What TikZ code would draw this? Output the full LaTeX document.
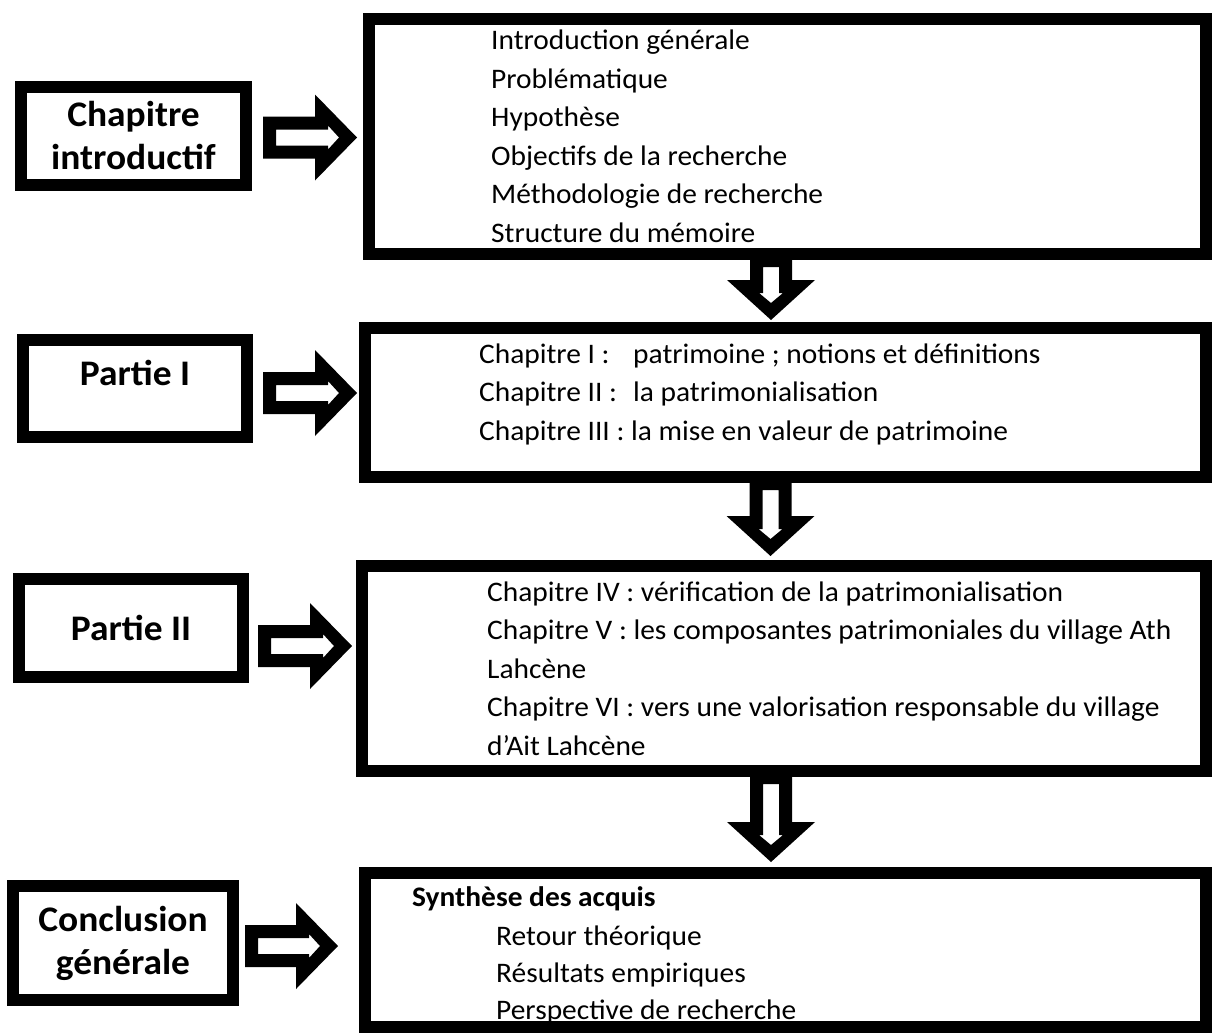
\documentclass[tikz,border=0pt]{standalone}
\usepackage{fontspec}
\setmainfont{Carlito}[FakeStretch=1.04]
\usetikzlibrary{positioning,calc}

\begin{document}
\begin{tikzpicture}[x=1pt, y=-1pt,
    part/.style={draw, line width=12pt, fill=white, inner sep=0pt, align=center,
      font=\fontsize{36}{43}\selectfont\bfseries},
    content/.style={draw, line width=12pt, fill=white, inner sep=0pt},
    items/.style={anchor=base west, inner sep=0pt, align=left,
      font=\fontsize{28.3}{38.5}\selectfont},
    hollowright/.style={to path={let \p1=(\tikztostart), \p2=(\tikztotarget) in
      (\x1,\y1+21pt) -- (\x2-42pt,\y1+21pt) -- (\x2-42pt,\y1+43pt) -- (\x2,\y1)
      -- (\x2-42pt,\y1-43pt) -- (\x2-42pt,\y1-21pt) -- (\x1,\y1-21pt) -- cycle
      (\x1+13pt,\y1+8pt) -- (\x2-29pt,\y1+8pt) -- (\x2-29pt,\y1+12pt) -- (\x2-18pt,\y1)
      -- (\x2-29pt,\y1-12pt) -- (\x2-29pt,\y1-8pt) -- (\x1+13pt,\y1-8pt) -- cycle}},
    hollowdown/.style={to path={let \p1=(\tikztostart), \p2=(\tikztotarget) in
      (\x1-21pt,\y1) -- (\x1-21pt,\y2+40pt) -- (\x1-44pt,\y2+40pt) -- (\x1,\y2)
      -- (\x1+44pt,\y2+40pt) -- (\x1+21pt,\y2+40pt) -- (\x1+21pt,\y1) -- cycle
      (\x1-8pt,\y1-13pt) -- (\x1-8pt,\y2+27pt) -- (\x1-12pt,\y2+27pt) -- (\x1,\y2+17pt)
      -- (\x1+12pt,\y2+27pt) -- (\x1+8pt,\y2+27pt) -- (\x1+8pt,\y1-13pt) -- cycle}}]

\useasboundingbox (0,0) rectangle (1214,1033);

% left column
\node[part, minimum width=225pt, minimum height=98pt] (intro) at (133.5,136) {Chapitre\\introductif};
\node[part, minimum width=224pt, minimum height=97pt, text height=22pt, text depth=28pt] (part1) at (135,388.5) {Partie I};
\node[part, minimum width=224pt, minimum height=98pt] (part2) at (131,628) {Partie II};
\node[part, minimum width=220pt, minimum height=114pt] (concl) at (123,943) {Conclusion\\générale};

% right column
\node[content, minimum width=837pt, minimum height=235pt] (intro box) at (787.5,136.5) {};
\node[content, minimum width=841pt, minimum height=149pt] (part1 box) at (785.5,402.5) {};
\node[content, minimum width=844pt, minimum height=205pt] (part2 box) at (784,668.5) {};
\node[content, minimum width=841pt, minimum height=154pt] (concl box) at (785.5,950) {};

\node[items] (intro list) at (491,242) {Introduction générale\\Problématique\\Hypothèse\\Objectifs de la recherche\\Méthodologie de recherche\\Structure du mémoire};
\node[items] (part1 list) at (479,440) {\makebox[154pt][l]{Chapitre I :}patrimoine ; notions et définitions\\\makebox[154pt][l]{Chapitre II :}la patrimonialisation\\Chapitre III : la mise en valeur de patrimoine};
\node[items] (part2 list) at (487,755) {Chapitre IV : vérification de la patrimonialisation\\Chapitre V : les composantes patrimoniales du village Ath\\Lahcène\\Chapitre VI : vers une valorisation responsable du village\\d’Ait Lahcène};
\node[items, font=\fontsize{28.3}{38.5}\selectfont\bfseries] (synth) at (412,906) {Synthèse des acquis};
\node[items, font=\fontsize{28.3}{37}\selectfont] (concl list) at (496,1019) {Retour théorique\\Résultats empiriques\\Perspective de recherche};

% arrows
\path[fill=black, even odd rule] ($(intro.east)+(11,1.5)$) to[hollowright] ($(intro box.west)+(-6,0)$);
\path[fill=black, even odd rule] ($(part1.east)+(10,4.5)$) to[hollowright] ($(part1 box.west)+(-2,0)$);
\path[fill=black, even odd rule] ($(part2.east)+(9,18)$) to[hollowright] ($(part2 box.west)+(-4,0)$);
\path[fill=black, even odd rule] ($(concl.east)+(6,3)$) to[hollowright] ($(concl box.west)+(-21,0)$);

\path[fill=black, even odd rule] ($(intro box.south)+(-16.5,-6)$) to[hollowdown] ($(part1 box.north)+(-16.5,-2)$);
\path[fill=black, even odd rule] ($(part1 box.south)+(-15,-6)$) to[hollowdown] ($(part2 box.north)+(-15,-4)$);
\path[fill=black, even odd rule] ($(part2 box.south)+(-13,-6)$) to[hollowdown] ($(concl box.north)+(-13,-5)$);
\end{tikzpicture}
\end{document}
